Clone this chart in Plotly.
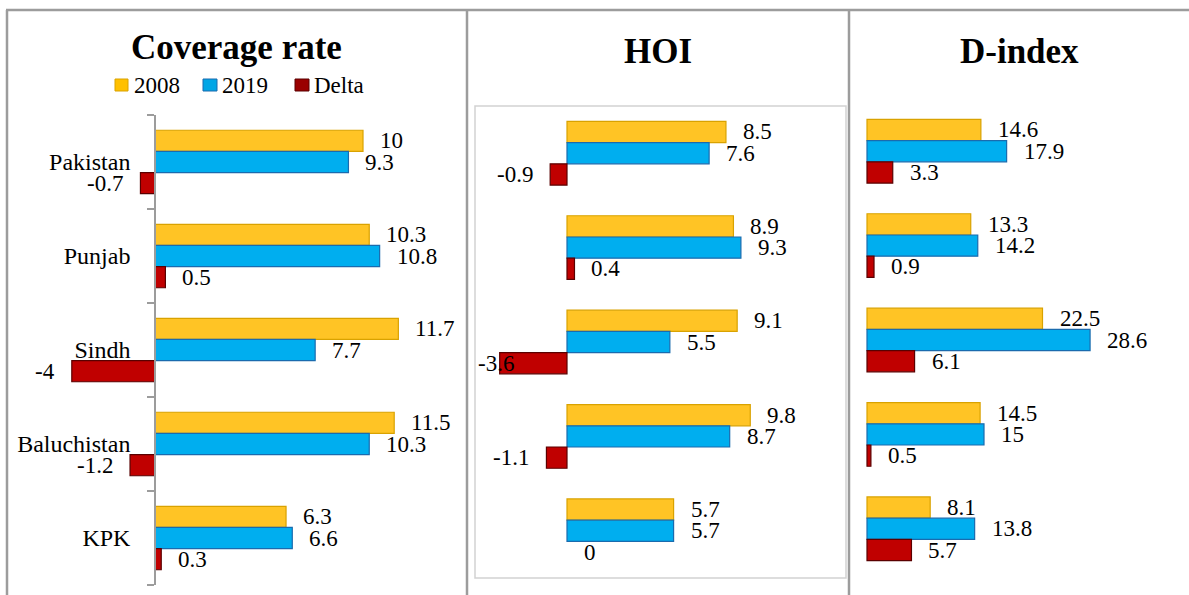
import plotly.graph_objects as go

# ---- data -------------------------------------------------------------
regions = ["Pakistan", "Punjab", "Sindh", "Baluchistan", "KPK"]
series_names = ["2008", "2019", "Delta"]

coverage_2008 = [10, 10.3, 11.7, 11.5, 6.3]
coverage_2019 = [9.3, 10.8, 7.7, 10.3, 6.6]
coverage_delta = [-0.7, 0.5, -4, -1.2, 0.3]

hoi_2008 = [8.5, 8.9, 9.1, 9.8, 5.7]
hoi_2019 = [7.6, 9.3, 5.5, 8.7, 5.7]
hoi_delta = [-0.9, 0.4, -3.6, -1.1, 0]

dindex_2008 = [14.6, 13.3, 22.5, 14.5, 8.1]
dindex_2019 = [17.9, 14.2, 28.6, 15, 13.8]
dindex_delta = [3.3, 0.9, 6.1, 0.5, 5.7]

panel_titles = ["Coverage rate", "HOI", "D-index"]

# ---- styling / layout constants ----------------------------------------
W, H = 1189, 595
FONT = "Liberation Serif, Times New Roman, serif"
TEXT_COLOR = "#000000"
FRAME_COLOR = "#9c9c9c"

fill_colors = {"2008": "#FFC425", "2019": "#00AEEF", "Delta": "#C00000"}
edge_colors = {"2008": "#D9A200", "2019": "#1A6BAE", "Delta": "#5A0000"}
swatch_colors = {"2008": "#FFC000", "2019": "#00A6E6", "Delta": "#9A0000"}

BAR_W = 0.225          # bar thickness in category units
LABEL_GAP = 15         # px between bar end and its value label
LABEL_SIZE = 23

# per panel: plot x-extent (px), zero position (px), px per unit,
# plot y-extent (px), title centre (px)
panels = [
    dict(values=[coverage_2008, coverage_2019, coverage_delta],
         xpx=(20, 462), zero=155, scale=20.8, ypx=(115, 585), title=(236, 47.5)),
    dict(values=[hoi_2008, hoi_2019, hoi_delta],
         xpx=(475, 846), zero=567, scale=18.7, ypx=(106, 578), title=(657.5, 51)),
    dict(values=[dindex_2008, dindex_2019, dindex_delta],
         xpx=(855, 1185), zero=867, scale=7.8, ypx=(104, 576), title=(1019, 51)),
]


def px_x(p):
    return p / W


def px_y(p):
    return 1 - p / H


def fmt(v):
    return f"{v:g}"


def text_width(s, size):
    em = {"-": 0.333, ".": 0.25}
    return sum(em.get(c, 0.5) for c in s) * size


fig = go.Figure()
annotations = []
shapes = []

for k, (panel, title) in enumerate(zip(panels, panel_titles)):
    sfx = "" if k == 0 else str(k + 1)
    xl, xr = panel["xpx"]
    r0 = (xl - panel["zero"]) / panel["scale"]
    r1 = (xr - panel["zero"]) / panel["scale"]

    for i, (name, vals) in enumerate(zip(series_names, panel["values"])):
        fig.add_trace(go.Bar(
            x=vals, y=list(range(len(regions))), orientation="h",
            name=name, showlegend=False,
            width=BAR_W, offset=(i - 1.5) * BAR_W,
            marker=dict(color=fill_colors[name],
                        line=dict(color=edge_colors[name],
                                  width=[1.2 if v != 0 else 0 for v in vals])),
            xaxis="x" + sfx, yaxis="y" + sfx, hoverinfo="skip",
        ))
        # value labels
        for j, v in enumerate(vals):
            yc = j + (i - 1) * BAR_W
            txt = fmt(v)
            ann = dict(x=v, y=yc, xref="x" + sfx, yref="y" + sfx, text=txt,
                       showarrow=False, yanchor="middle",
                       font=dict(family=FONT, size=LABEL_SIZE, color=TEXT_COLOR))
            if v >= 0:
                ann.update(xanchor="left", xshift=LABEL_GAP)
            else:
                end_px = panel["zero"] + v * panel["scale"]
                left_px = end_px - LABEL_GAP - text_width(txt, LABEL_SIZE)
                if left_px < xl:
                    # keep the label inside the plot area
                    ann.update(x=r0, xanchor="left", xshift=1)
                else:
                    ann.update(xanchor="right", xshift=-LABEL_GAP)
            annotations.append(ann)

    yt, yb = panel["ypx"]
    fig.layout["xaxis" + sfx] = dict(domain=[px_x(xl), px_x(xr)], range=[r0, r1],
                                     visible=False, anchor="y" + sfx)
    yax = dict(domain=[px_y(yb), px_y(yt)], range=[len(regions) - 0.5, -0.5],
               showgrid=False, zeroline=False)
    if k == 0:
        yax.update(
            anchor="free", position=px_x(panel["zero"]),
            showline=True, linecolor=FRAME_COLOR, linewidth=1.5,
            tickmode="array", tickvals=list(range(len(regions))), ticktext=regions,
            ticks="", ticklabelstandoff=19,
            tickfont=dict(family=FONT, size=24, color=TEXT_COLOR),
            minor=dict(tickmode="array",
                       tickvals=[j - 0.5 for j in range(len(regions) + 1)],
                       ticks="outside", ticklen=7, tickwidth=1.5,
                       tickcolor=FRAME_COLOR),
        )
    else:
        yax.update(visible=False, anchor="x" + sfx)
    fig.layout["yaxis" + sfx] = yax

    # panel title
    tx, ty = panel["title"]
    annotations.append(dict(x=px_x(tx), y=px_y(ty), xref="paper", yref="paper",
                            text=title, showarrow=False, xanchor="center",
                            yanchor="middle",
                            font=dict(family=FONT, size=35, color="#000000",
                                      weight="bold")))

# legend for the first panel
legend_items = [((115, 128), 132), ((203, 217), 220), ((295, 309), 312)]
for name, ((s0, s1), tx) in zip(series_names, legend_items):
    shapes.append(dict(type="rect", xref="paper", yref="paper",
                       x0=px_x(s0), x1=px_x(s1), y0=px_y(91), y1=px_y(79),
                       fillcolor=swatch_colors[name],
                       line=dict(color=edge_colors[name], width=1)))
    annotations.append(dict(x=px_x(tx), y=px_y(85.5), xref="paper", yref="paper",
                            text=name, showarrow=False, xanchor="left",
                            yanchor="middle",
                            font=dict(family=FONT, size=23, color=TEXT_COLOR)))

# outer frame and panel dividers
def line(x0, y0, x1, y1, color=FRAME_COLOR, width=2.5):
    return dict(type="line", xref="paper", yref="paper",
                x0=px_x(x0), y0=px_y(y0), x1=px_x(x1), y1=px_y(y1),
                line=dict(color=color, width=width))

shapes += [
    line(6, 10, W, 10),
    line(7, 10, 7, H),
    line(467, 10, 467, H),
    line(849, 10, 849, H),
]
# plot-area border of the middle panel
shapes.append(dict(type="rect", xref="paper", yref="paper",
                   x0=px_x(475), x1=px_x(846), y0=px_y(578), y1=px_y(106),
                   line=dict(color="#d2d2d2", width=1.5)))

fig.update_layout(
    width=W, height=H, margin=dict(l=0, r=0, t=0, b=0),
    paper_bgcolor="white", plot_bgcolor="rgba(0,0,0,0)",
    barmode="overlay", showlegend=False,
    annotations=annotations, shapes=shapes,
)

fig.write_html("out.html")
